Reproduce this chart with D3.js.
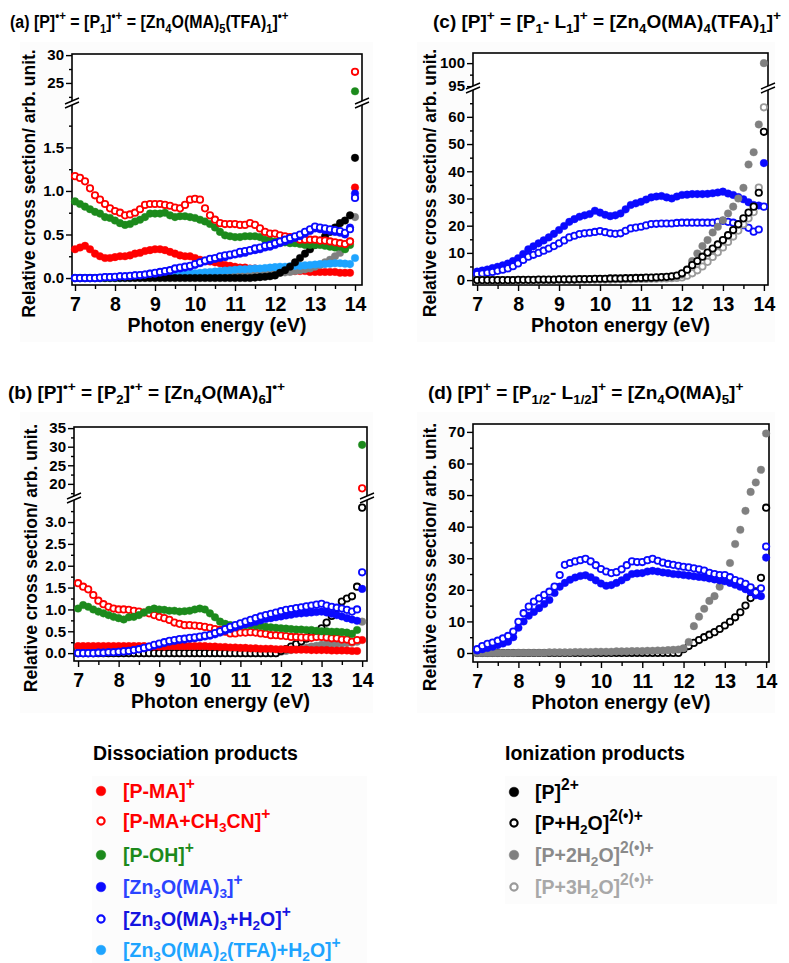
<!DOCTYPE html>
<html>
<head>
<meta charset="utf-8">
<script src="https://cdn.jsdelivr.net/npm/d3@7"></script>
<style>
body { margin: 0; background: #fff; }
svg text { font-family: "Liberation Sans", Arial, sans-serif; font-weight: bold; }
</style>
</head>
<body>
<div id="chart"></div>
<script>
// photon energies (eV)
var energy = [7,7.125,7.25,7.375,7.5,7.625,7.75,7.875,
  8,8.125,8.25,8.375,8.5,8.625,8.75,8.875,
  9,9.125,9.25,9.375,9.5,9.625,9.75,9.875,
  10,10.125,10.25,10.375,10.5,10.625,10.75,10.875,
  11,11.125,11.25,11.375,11.5,11.625,11.75,11.875,
  12,12.125,12.25,12.375,12.5,12.625,12.75,12.875,
  13,13.125,13.25,13.375,13.5,13.625,13.75,13.875,
  14];

// (a) [Zn4O(MA)5(TFA)1]•+
var aPMA = [0.33,0.35,0.37,0.33,0.28,0.25,0.23,0.23,
  0.24,0.25,0.25,0.26,0.28,0.29,0.31,0.32,
  0.33,0.33,0.32,0.30,0.28,0.26,0.25,0.25,
  0.23,0.21,0.20,0.19,0.18,0.17,0.15,0.14,
  0.13,0.12,0.12,0.11,0.11,0.10,0.10,0.10,
  0.09,0.09,0.09,0.08,0.08,0.08,0.08,0.07,
  0.07,0.07,0.07,0.07,0.07,0.06,0.06,0.06,
  1.04];
var aPMACN = [1.17,1.15,1.11,1.03,0.95,0.90,0.85,0.80,
  0.77,0.75,0.72,0.73,0.75,0.79,0.84,0.85,
  0.85,0.85,0.84,0.83,0.81,0.80,0.84,0.90,
  0.91,0.90,0.80,0.72,0.67,0.63,0.62,0.62,
  0.62,0.61,0.61,0.63,0.61,0.57,0.53,0.51,
  0.51,0.49,0.48,0.47,0.46,0.44,0.44,0.44,
  0.44,0.43,0.43,0.42,0.41,0.40,0.39,0.42,
  27];
var aPOH = [0.88,0.85,0.82,0.79,0.76,0.74,0.70,0.69,
  0.66,0.63,0.61,0.62,0.65,0.67,0.70,0.74,
  0.74,0.74,0.75,0.72,0.70,0.71,0.71,0.70,
  0.69,0.67,0.65,0.62,0.58,0.53,0.49,0.48,
  0.47,0.47,0.48,0.48,0.48,0.47,0.44,0.43,
  0.42,0.42,0.41,0.40,0.40,0.39,0.38,0.38,
  0.38,0.38,0.37,0.36,0.35,0.36,0.33,0.38,
  23.5];
var aZn3 = [0,0,0,0,0,0,0.01,0.01,
  0.01,0.02,0.02,0.02,0.03,0.03,0.04,0.05,
  0.05,0.06,0.07,0.08,0.10,0.11,0.12,0.13,
  0.15,0.17,0.19,0.20,0.22,0.23,0.24,0.26,
  0.27,0.28,0.29,0.31,0.32,0.33,0.35,0.36,
  0.38,0.40,0.42,0.44,0.46,0.48,0.51,0.54,
  0.57,0.56,0.55,0.54,0.53,0.52,0.50,0.58,
  0.97];
var aZn3H2O = [0,0,0,0,0,0.005,0.01,0.01,
  0.015,0.02,0.02,0.025,0.03,0.035,0.04,0.05,
  0.06,0.07,0.08,0.09,0.11,0.12,0.13,0.14,
  0.16,0.18,0.20,0.22,0.23,0.25,0.26,0.27,
  0.28,0.30,0.31,0.32,0.34,0.35,0.37,0.38,
  0.40,0.42,0.44,0.46,0.48,0.50,0.53,0.56,
  0.59,0.58,0.57,0.56,0.55,0.54,0.52,0.56,
  0.92];
var aTFA = [0,0,0,0,0,0,0,0,
  0,0,0.005,0.005,0.01,0.01,0.015,0.015,
  0.02,0.025,0.03,0.03,0.035,0.04,0.045,0.05,
  0.055,0.06,0.065,0.07,0.075,0.08,0.085,0.09,
  0.095,0.10,0.10,0.105,0.11,0.11,0.115,0.12,
  0.125,0.13,0.13,0.135,0.14,0.14,0.145,0.15,
  0.155,0.16,0.16,0.165,0.17,0.17,0.165,0.16,
  0.23];
var aP2 = [0,0,0,0,0,0,0,0,
  0,0,0,0,0,0,0,0,
  0,0,0,0,0,0,0,0,
  0,0,0,0,0,0,0,0,
  0,0,0,0,0.005,0.01,0.015,0.02,
  0.03,0.06,0.09,0.13,0.18,0.23,0.28,0.33,
  0.38,0.43,0.48,0.53,0.58,0.63,0.66,0.72,
  1.38];
var aP2H2O2 = [0,0,0,0,0,0,0,0,
  0,0,0,0,0.005,0.005,0.005,0.01,
  0.01,0.01,0.01,0.015,0.015,0.015,0.02,0.02,
  0.02,0.02,0.025,0.025,0.03,0.03,0.03,0.035,
  0.035,0.04,0.04,0.04,0.045,0.045,0.05,0.05,
  0.055,0.06,0.065,0.07,0.08,0.09,0.10,0.11,
  0.13,0.15,0.18,0.21,0.25,0.29,0.34,0.42,
  0.70];

// (b) [Zn4O(MA)6]•+
var bPMA = [0.16,0.16,0.16,0.16,0.16,0.16,0.16,0.16,
  0.16,0.16,0.16,0.16,0.16,0.16,0.15,0.15,
  0.15,0.15,0.16,0.16,0.16,0.16,0.16,0.16,
  0.16,0.16,0.15,0.15,0.14,0.14,0.13,0.13,
  0.12,0.12,0.11,0.11,0.10,0.10,0.10,0.09,
  0.09,0.09,0.08,0.08,0.08,0.08,0.07,0.07,
  0.07,0.07,0.06,0.06,0.06,0.06,0.05,0.05,
  0.30];
var bPMACN = [1.60,1.52,1.46,1.33,1.20,1.12,1.06,1.02,
  1.00,1.00,0.99,0.97,0.95,0.93,0.91,0.87,
  0.83,0.80,0.76,0.70,0.67,0.64,0.64,0.63,
  0.62,0.60,0.58,0.55,0.53,0.49,0.45,0.45,
  0.47,0.47,0.48,0.47,0.45,0.44,0.41,0.41,
  0.40,0.39,0.37,0.37,0.36,0.36,0.35,0.37,
  0.37,0.36,0.34,0.34,0.31,0.31,0.26,0.30,
  18.8];
var bPOH = [1.02,1.10,1.06,1.00,0.95,0.91,0.87,0.83,
  0.80,0.77,0.82,0.83,0.87,0.93,0.99,1.02,
  1.00,0.99,0.97,0.97,0.95,0.96,0.97,1.00,
  1.02,1.00,0.91,0.82,0.72,0.67,0.64,0.63,
  0.63,0.64,0.64,0.63,0.62,0.60,0.59,0.58,
  0.57,0.56,0.55,0.54,0.54,0.53,0.53,0.51,
  0.50,0.50,0.49,0.49,0.48,0.47,0.44,0.53,
  30.5];
var bZn3 = [0,0,0,0,0.01,0.01,0.02,0.02,
  0.03,0.04,0.05,0.07,0.09,0.11,0.14,0.17,
  0.20,0.23,0.26,0.28,0.30,0.31,0.33,0.34,
  0.36,0.38,0.40,0.43,0.47,0.51,0.55,0.59,
  0.63,0.66,0.69,0.72,0.75,0.78,0.80,0.82,
  0.84,0.86,0.88,0.90,0.91,0.92,0.93,0.94,
  0.95,0.93,0.90,0.87,0.84,0.80,0.77,0.74,
  1.47];
var bZn3H2O = [0,0,0,0,0.01,0.01,0.02,0.02,
  0.03,0.04,0.05,0.07,0.09,0.12,0.15,0.19,
  0.22,0.25,0.28,0.30,0.32,0.33,0.35,0.36,
  0.38,0.40,0.42,0.46,0.50,0.55,0.60,0.64,
  0.68,0.72,0.76,0.80,0.84,0.87,0.90,0.93,
  0.96,0.99,1.01,1.03,1.05,1.07,1.09,1.11,
  1.13,1.09,1.06,1.04,1.02,0.99,0.95,1.00,
  1.85];
var bP2H2O = [0,0,0,0,0,0,0,0,
  0,0,0,0,0,0,0,0,
  0,0,0,0,0,0,0,0,
  0,0,0,0,0,0,0,0,
  0,0,0,0,0,0,0,0,
  0.05,0.09,0.15,0.21,0.27,0.33,0.40,0.48,
  0.57,0.70,0.85,1.03,1.18,1.25,1.30,1.52,
  3.33];
var bP2H2O2 = [0,0,0,0,0,0,0,0,
  0,0,0,0,0,0,0,0,
  0,0,0,0,0,0,0,0,
  0,0,0,0,0,0,0,0,
  0,0,0,0,0,0,0,0,
  0.03,0.05,0.07,0.09,0.11,0.13,0.15,0.17,
  0.19,0.20,0.21,0.22,0.22,0.23,0.24,0.26,
  0.72];

// (c) [Zn4O(MA)4(TFA)1]+
var cZn3 = [3.1,3.5,3.9,4.4,4.9,5.4,6.1,7.0,
  8.0,9.6,11.3,12.4,13.5,14.6,15.7,17.0,
  18.4,19.9,21.4,22.4,23.3,23.8,24.3,25.5,
  24.8,24.0,23.5,23.8,24.5,26.0,27.6,28.2,
  28.8,29.6,30.4,30.7,30.9,30.4,30.0,30.7,
  31.3,31.4,31.6,31.6,31.6,31.7,31.9,32.2,
  32.5,31.8,31.3,30.5,29.7,28.6,27.6,27.4,
  43];
var cZn3H2O = [2.2,2.4,2.7,3.0,3.4,3.8,4.3,5.1,
  6.1,7.4,8.6,9.3,10.0,10.8,11.6,12.5,
  13.5,14.6,15.7,16.3,16.9,17.2,17.4,17.7,
  18.0,17.6,17.2,17.0,17.2,18.1,19.0,19.3,
  19.6,20.1,20.6,20.7,20.8,20.8,20.8,21.0,
  21.1,21.1,21.1,21.1,21.1,21.1,21.1,21.4,
  21.8,21.4,21.1,20.6,20.2,19.2,17.8,18.6,
  27];
var cP2H2O = [0,0,0,0,0,0,0,0,
  0.1,0.1,0.1,0.1,0.2,0.2,0.2,0.2,
  0.3,0.3,0.3,0.3,0.4,0.4,0.4,0.5,
  0.5,0.5,0.6,0.6,0.6,0.7,0.7,0.8,
  0.8,0.9,0.9,1.0,1.1,1.2,1.4,1.7,
  2.5,3.8,5.5,7.0,8.6,10.1,11.6,13.1,
  14.7,16.5,18.4,20.5,22.7,24.8,27.0,32.1,
  54.5];
var cP2H2O2 = [0,0,0,0,0,0,0,0,
  0,0,0,0,0.1,0.1,0.1,0.1,
  0.2,0.2,0.2,0.2,0.3,0.3,0.3,0.3,
  0.4,0.4,0.4,0.5,0.5,0.5,0.6,0.6,
  0.6,0.7,0.7,0.8,0.9,1.0,1.2,1.5,
  2.0,4.0,7.0,9.8,12.5,14.7,17.5,19.6,
  22.0,24.5,27.0,30.0,33.9,42.5,47.0,57.2,
  100];
var cP3H2O = [0,0,0,0,0,0,0,0,
  0,0,0,0,0,0,0,0,
  0.1,0.1,0.1,0.1,0.1,0.1,0.2,0.2,
  0.2,0.2,0.2,0.3,0.3,0.3,0.3,0.4,
  0.4,0.4,0.5,0.5,0.6,0.6,0.7,0.8,
  1.0,1.6,2.5,3.6,5.0,6.7,8.5,10.2,
  12.0,14.0,16.0,18.2,20.5,22.7,25.0,34.0,
  63.5];

// (d) [Zn4O(MA)5]+
var dZn3 = [0.8,1.2,1.6,2.0,2.5,3.0,3.6,5.0,
  8.0,10.0,11.8,13.0,14.2,15.5,16.8,19.0,
  21.0,22.2,23.2,23.9,24.4,24.6,24.0,23.0,
  22.0,21.3,21.5,22.2,23.0,24.0,25.0,25.2,
  25.3,25.8,26.0,25.8,25.5,25.3,25.0,24.9,
  24.7,24.5,24.3,24.1,23.9,23.6,23.3,23.0,
  22.7,22.2,21.6,21.0,20.2,19.3,18.3,18.0,
  30.2];
var dZn3H2O = [1.2,2.2,2.9,3.3,3.9,4.6,5.4,6.8,
  9.9,12.6,14.7,16.3,17.3,18.4,19.4,21.0,
  24.7,27.9,28.5,29.0,29.4,29.8,29.0,27.8,
  26.6,25.8,25.3,25.6,26.5,27.8,29.0,28.8,
  28.8,29.4,29.8,29.2,28.6,28.2,27.9,27.6,
  27.3,27.1,26.8,26.5,26.1,25.4,25.0,24.7,
  24.7,24.0,23.1,22.6,21.9,20.8,19.2,20.5,
  33.7];
var dP2H2O = [0,0,0,0,0,0,0,0,
  0,0,0,0,0,0,0,0,
  0,0,0,0,0,0,0,0,
  0,0,0,0,0,0,0,0,
  0,0,0,0,0,0,0,0,
  1.2,2.2,3.2,4.1,5.0,5.8,6.6,7.6,
  8.7,9.9,11.3,12.9,15.0,17.4,19.5,23.8,
  46];
var dP2H2O2 = [0,0,0,0,0,0,0,0,
  0.1,0.1,0.1,0.1,0.1,0.1,0.2,0.2,
  0.2,0.2,0.2,0.3,0.3,0.3,0.3,0.4,
  0.4,0.4,0.4,0.5,0.5,0.5,0.6,0.6,
  0.6,0.7,0.7,0.8,0.8,0.9,1.0,1.1,
  1.5,3.5,8.5,11.5,14.0,16.5,18.0,21.0,
  23.5,28.5,34.5,39.0,45.0,51.0,54.0,58.0,
  69.5];

// legend entries
var dissLabels = [["PMA", "[P-MA]^{+}"], ["PMACN", "[P-MA+CH_{3}CN]^{+}"], ["POH", "[P-OH]^{+}"],
  ["Zn3", "[Zn_{3}O(MA)_{3}]^{+}"], ["Zn3H2O", "[Zn_{3}O(MA)_{3}+H_{2}O]^{+}"],
  ["TFA", "[Zn_{3}O(MA)_{2}(TFA)+H_{2}O]^{+}"]];
var ionLabels = [["P2", "[P]^{2+}"], ["P2H2O", "[P+H_{2}O]^{2(•)+}"],
  ["P2H2O2", "[P+2H_{2}O]^{2(•)+}"], ["P3H2O", "[P+3H_{2}O]^{2(•)+}"]];

var styles = {
  PMA:    { color: "#ff0000", open: false, text: "#ff0000" },
  PMACN:  { color: "#ff0000", open: true,  text: "#ff0000" },
  POH:    { color: "#1c8a1c", open: false, text: "#1c8a1c" },
  Zn3:    { color: "#0a0aff", open: false, text: "#2a44ff" },
  Zn3H2O: { color: "#0a0aff", open: true,  text: "#1414e0" },
  TFA:    { color: "#1ea4ff", open: false, text: "#1ea4ff" },
  P2:     { color: "#000000", open: false, text: "#000000" },
  P2H2O:  { color: "#000000", open: true,  text: "#000000" },
  P2H2O2: { color: "#808080", open: false, text: "#8a8a8a" },
  P3H2O:  { color: "#9a9a9a", open: true,  text: "#a8a8a8" }
};

var svg = d3.select("#chart").append("svg")
  .attr("width", 789)
  .attr("height", 963);

// text with ^{sup} and _{sub} parts
function richText(sel, str, fs, supScale) {
  var sc = supScale || 0.7;
  var parts = str.match(/\^\{[^}]*\}|_\{[^}]*\}|[^\^_]+/g);
  var shift = 0;
  parts.forEach(function(p) {
    var target = 0, size = fs, txt = p;
    if (p[0] === "^") { target = -0.42 * fs; size = sc * fs; txt = p.slice(2, -1); }
    else if (p[0] === "_") { target = 0.24 * fs; size = 0.7 * fs; txt = p.slice(2, -1); }
    sel.append("tspan").attr("dy", target - shift).attr("font-size", size).text(txt);
    shift = target;
  });
}

var panels = [
  { title: "(a) [P]^{•+} = [P_{1}]^{•+} = [Zn_{4}O(MA)_{5}(TFA)_{1}]^{•+}", tx: 10, ty: 28, tsx: 0.84,
    box: [20, 42, 353, 300], left: 72, right: 362, top: 54, bottom: 285, xDomain: [6.925, 14.175],
    low: [-0.08, 2.01], high: [21.4, 30.2], brk: 103, fmt: ".1f",
    lowTicks: [0, 0.5, 1, 1.5], lowMinor: [0.25, 0.75, 1.25, 1.75], highTicks: [25, 30], highMinor: [22.5, 27.5],
    series: [["PMA", aPMA], ["P2H2O2", aP2H2O2], ["TFA", aTFA], ["P2", aP2], ["POH", aPOH],
      ["PMACN", aPMACN], ["Zn3", aZn3], ["Zn3H2O", aZn3H2O]] },
  { title: "(b) [P]^{•+} = [P_{2}]^{•+} = [Zn_{4}O(MA)_{6}]^{•+}", tx: 8, ty: 399, tsx: 1,
    box: [20, 412, 353, 301], left: 74, right: 367, top: 427, bottom: 661, xDomain: [6.90, 14.12],
    low: [-0.18, 3.55], high: [16.2, 35.3], brk: 498, fmt: ".1f",
    lowTicks: [0, 0.5, 1, 1.5, 2, 2.5, 3], lowMinor: [0.25, 0.75, 1.25, 1.75, 2.25, 2.75, 3.25],
    highTicks: [20, 25, 30, 35], highMinor: [17.5, 22.5, 27.5, 32.5],
    series: [["P2H2O2", bP2H2O2], ["P2H2O", bP2H2O], ["PMA", bPMA], ["PMACN", bPMACN], ["POH", bPOH],
      ["Zn3", bZn3], ["Zn3H2O", bZn3H2O]] },
  { title: "(c) [P]^{+} = [P_{1}- L_{1}]^{+} = [Zn_{4}O(MA)_{4}(TFA)_{1}]^{+}", tx: 433, ty: 28, tsx: 1,
    box: [417, 42, 358, 300], left: 473, right: 768, top: 53, bottom: 285, xDomain: [6.90, 14.10],
    low: [-1.8, 70.6], high: [94.6, 102.2], brk: 88, fmt: "d",
    lowTicks: [0, 10, 20, 30, 40, 50, 60], lowMinor: [5, 15, 25, 35, 45, 55, 65], highTicks: [95, 100], highMinor: [97.5],
    series: [["Zn3", cZn3], ["Zn3H2O", cZn3H2O], ["P3H2O", cP3H2O], ["P2H2O2", cP2H2O2], ["P2H2O", cP2H2O]] },
  { title: "(d) [P]^{+} = [P_{1/2}- L_{1/2}]^{+} = [Zn_{4}O(MA)_{5}]^{+}", tx: 428, ty: 399, tsx: 1,
    box: [417, 412, 358, 301], left: 473, right: 769, top: 424, bottom: 662, xDomain: [6.90, 14.07],
    low: [-2.85, 72.5], high: null, brk: null, fmt: "d",
    lowTicks: [0, 10, 20, 30, 40, 50, 60, 70], lowMinor: [5, 15, 25, 35, 45, 55, 65],
    series: [["P2H2O", dP2H2O], ["P2H2O2", dP2H2O2], ["Zn3", dZn3], ["Zn3H2O", dZn3H2O]] }
];

var xTicks = [7, 8, 9, 10, 11, 12, 13, 14];
var xMinor = [7.5, 8.5, 9.5, 10.5, 11.5, 12.5, 13.5];

function styleAxis(g, fs) {
  g.select(".domain").remove();
  g.selectAll(".tick line").attr("stroke", "#000").attr("stroke-width", 1.4);
  g.selectAll(".tick text").attr("fill", "#000").attr("font-size", fs);
}

function drawPanel(p) {
  var g = svg.append("g");

  g.append("rect")
    .attr("x", p.box[0]).attr("y", p.box[1])
    .attr("width", p.box[2]).attr("height", p.box[3])
    .attr("fill", "#fcfcfc");
  g.append("rect")
    .attr("x", p.left).attr("y", p.top)
    .attr("width", p.right - p.left).attr("height", p.bottom - p.top)
    .attr("fill", "#fff");

  var x = d3.scaleLinear().domain(p.xDomain).range([p.left, p.right]);
  var yLow = d3.scaleLinear().domain(p.low).range([p.bottom, p.brk || p.top]);
  var yHigh = p.high ? d3.scaleLinear().domain(p.high).range([p.brk, p.top]) : null;
  var y = function(v) { return (yHigh && v >= p.high[0]) ? yHigh(v) : yLow(v); };

  // x axis
  g.append("g").attr("transform", `translate(0, ${p.bottom})`)
    .call(d3.axisBottom(x).tickValues(xTicks).tickSize(6).tickPadding(6).tickFormat(d3.format("d")))
    .call(styleAxis, 19.5);
  g.append("g").attr("transform", `translate(0, ${p.bottom})`)
    .call(d3.axisBottom(x).tickValues(xMinor).tickSize(4).tickFormat(""))
    .call(styleAxis, 10);

  // y axis (one or two segments)
  var yl = g.append("g").attr("transform", `translate(${p.left}, 0)`);
  yl.append("g").call(d3.axisLeft(yLow).tickValues(p.lowTicks).tickSize(6).tickPadding(2).tickFormat(d3.format(p.fmt)))
    .call(styleAxis, 15);
  yl.append("g").call(d3.axisLeft(yLow).tickValues(p.lowMinor).tickSize(3).tickFormat(""))
    .call(styleAxis, 10);
  if (yHigh) {
    yl.append("g").call(d3.axisLeft(yHigh).tickValues(p.highTicks).tickSize(6).tickPadding(2).tickFormat(d3.format("d")))
      .call(styleAxis, 15);
    yl.append("g").call(d3.axisLeft(yHigh).tickValues(p.highMinor).tickSize(3).tickFormat(""))
      .call(styleAxis, 10);
  }

  // frame
  g.append("rect")
    .attr("x", p.left).attr("y", p.top)
    .attr("width", p.right - p.left).attr("height", p.bottom - p.top)
    .attr("fill", "none").attr("stroke", "#000").attr("stroke-width", 1.6);

  // markers
  p.series.forEach(function(s) {
    var st = styles[s[0]];
    var pts = energy.map(function(e, i) { return { e: e, v: s[1][i] }; })
      .filter(function(d) { return d.v != null; });
    g.append("g").selectAll("circle")
      .data(pts)
      .enter()
      .append("circle")
      .attr("cx", d => x(d.e))
      .attr("cy", d => y(d.v))
      .attr("r", st.open ? 3.2 : 3.8)
      .attr("fill", st.open ? "#fff" : st.color)
      .attr("stroke", st.color)
      .attr("stroke-width", st.open ? 1.8 : 0.4);
  });

  // axis break marks
  if (p.brk) {
    [p.left, p.right].forEach(function(bx) {
      var b = p.brk;
      g.append("polygon")
        .attr("points", `${bx - 7},${b + 1} ${bx + 7},${b - 5} ${bx + 7},${b - 1} ${bx - 7},${b + 5}`)
        .attr("fill", "#fff");
      g.append("line").attr("x1", bx - 7).attr("y1", b + 1).attr("x2", bx + 7).attr("y2", b - 5)
        .attr("stroke", "#000").attr("stroke-width", 1.4);
      g.append("line").attr("x1", bx - 7).attr("y1", b + 5).attr("x2", bx + 7).attr("y2", b - 1)
        .attr("stroke", "#000").attr("stroke-width", 1.4);
    });
  }

  // titles
  g.append("text")
    .attr("x", (p.left + p.right) / 2)
    .attr("y", p.bottom + 47)
    .attr("text-anchor", "middle")
    .attr("font-size", 19.5)
    .text("Photon energy (eV)");

  g.append("text")
    .attr("transform", `translate(${p.left - 37}, ${(p.top + p.bottom) / 2 + 14}) rotate(-90)`)
    .attr("text-anchor", "middle")
    .attr("font-size", 17.5)
    .text("Relative cross section/ arb. unit.");

  var t = g.append("text")
    .attr("transform", `translate(${p.tx}, ${p.ty}) scale(${p.tsx}, 1)`)
    .attr("font-size", 19);
  richText(t, p.title, 19, 0.72);
}

panels.forEach(drawPanel);

// legends
svg.append("rect").attr("x", 92).attr("y", 776).attr("width", 275).attr("height", 187).attr("fill", "#fcfcfc");
svg.append("rect").attr("x", 505).attr("y", 776).attr("width", 272).attr("height", 128).attr("fill", "#fcfcfc");

svg.append("text").attr("x", 93).attr("y", 760).attr("font-size", 19.5).text("Dissociation products");
svg.append("text").attr("x", 505).attr("y", 760).attr("font-size", 19.5).text("Ionization products");

function drawLegend(items, mx, tx, rowY) {
  items.forEach(function(it, i) {
    var st = styles[it[0]];
    var cy = rowY[i];
    svg.append("circle")
      .attr("cx", mx).attr("cy", cy)
      .attr("r", st.open ? 3.6 : 4.8)
      .attr("fill", st.open ? "#fff" : st.color)
      .attr("stroke", st.color)
      .attr("stroke-width", st.open ? 2.2 : 0.5);
    var t = svg.append("text").attr("x", tx).attr("y", cy + 6.5).attr("fill", st.text).attr("font-size", 19.5);
    richText(t, it[1], 19.5, 0.8);
  });
}

drawLegend(dissLabels, 101, 123, [791, 821, 855, 887, 919, 950]);
drawLegend(ionLabels, 514, 535, [792, 823, 855, 887]);
</script>
</body>
</html>
